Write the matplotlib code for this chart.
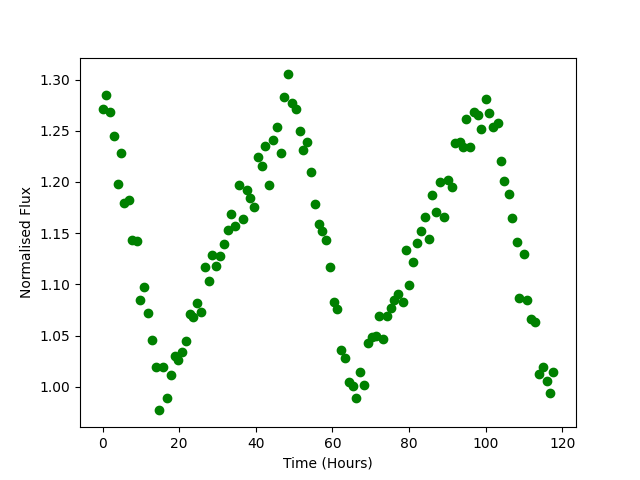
import matplotlib
matplotlib.use('agg')
import matplotlib.pyplot as plt

# time (hours)
time_hours = [0.0, 0.9, 1.9, 2.9, 4.0, 4.8, 5.7, 6.8, 7.8, 9.0,
              9.8, 10.8, 11.8, 12.8, 13.9, 14.7, 15.9, 16.7, 17.8, 18.8,
              19.7, 20.7, 21.8, 22.8, 23.7, 24.7, 25.8, 26.8, 27.8, 28.6,
              29.6, 30.7, 31.7, 32.8, 33.5, 34.6, 35.6, 36.7, 37.7, 38.5,
              39.6, 40.6, 41.6, 42.4, 43.5, 44.5, 45.6, 46.6, 47.3, 48.4,
              49.5, 50.5, 51.6, 52.3, 53.4, 54.5, 55.5, 56.6, 57.3, 58.4,
              59.4, 60.5, 61.3, 62.3, 63.4, 64.4, 65.4, 66.2, 67.3, 68.3,
              69.3, 70.3, 71.4, 72.2, 73.3, 74.3, 75.4, 76.1, 77.1, 78.4,
              79.3, 80.1, 81.1, 82.2, 83.2, 84.3, 85.1, 86.1, 87.1, 88.2,
              89.2, 90.1, 91.1, 92.1, 93.2, 94.1, 95.0, 96.0, 97.0, 98.0,
              98.9, 100.0, 101.0, 102.0, 103.1, 103.9, 104.9, 106.0, 107.0, 108.1,
              108.8, 109.9, 110.9, 111.9, 113.0, 113.8, 114.9, 115.9, 116.9, 117.7]

flux = [1.271, 1.285, 1.268, 1.245, 1.198, 1.228, 1.179, 1.182, 1.143, 1.142,
        1.085, 1.097, 1.072, 1.046, 1.019, 0.977, 1.019, 0.989, 1.012, 1.030,
        1.026, 1.034, 1.045, 1.071, 1.068, 1.082, 1.073, 1.117, 1.103, 1.129,
        1.118, 1.128, 1.139, 1.153, 1.169, 1.157, 1.197, 1.164, 1.192, 1.184,
        1.176, 1.224, 1.216, 1.235, 1.197, 1.241, 1.254, 1.228, 1.283, 1.305,
        1.277, 1.271, 1.250, 1.231, 1.239, 1.210, 1.178, 1.159, 1.152, 1.143,
        1.117, 1.083, 1.076, 1.036, 1.028, 1.005, 1.001, 0.989, 1.014, 1.002,
        1.043, 1.049, 1.050, 1.069, 1.047, 1.069, 1.077, 1.085, 1.091, 1.083,
        1.134, 1.099, 1.122, 1.140, 1.152, 1.166, 1.144, 1.187, 1.171, 1.200,
        1.166, 1.202, 1.195, 1.238, 1.239, 1.234, 1.261, 1.234, 1.268, 1.265,
        1.252, 1.281, 1.267, 1.254, 1.258, 1.220, 1.201, 1.188, 1.165, 1.141,
        1.087, 1.130, 1.085, 1.066, 1.063, 1.013, 1.019, 1.006, 0.994, 1.014]

fig = plt.figure(figsize=(6.4, 4.8), dpi=100)
plt.plot(time_hours, flux, 'o', color='green')
plt.xlabel('Time (Hours)')
plt.ylabel('Normalised Flux')
plt.savefig('out.png')
